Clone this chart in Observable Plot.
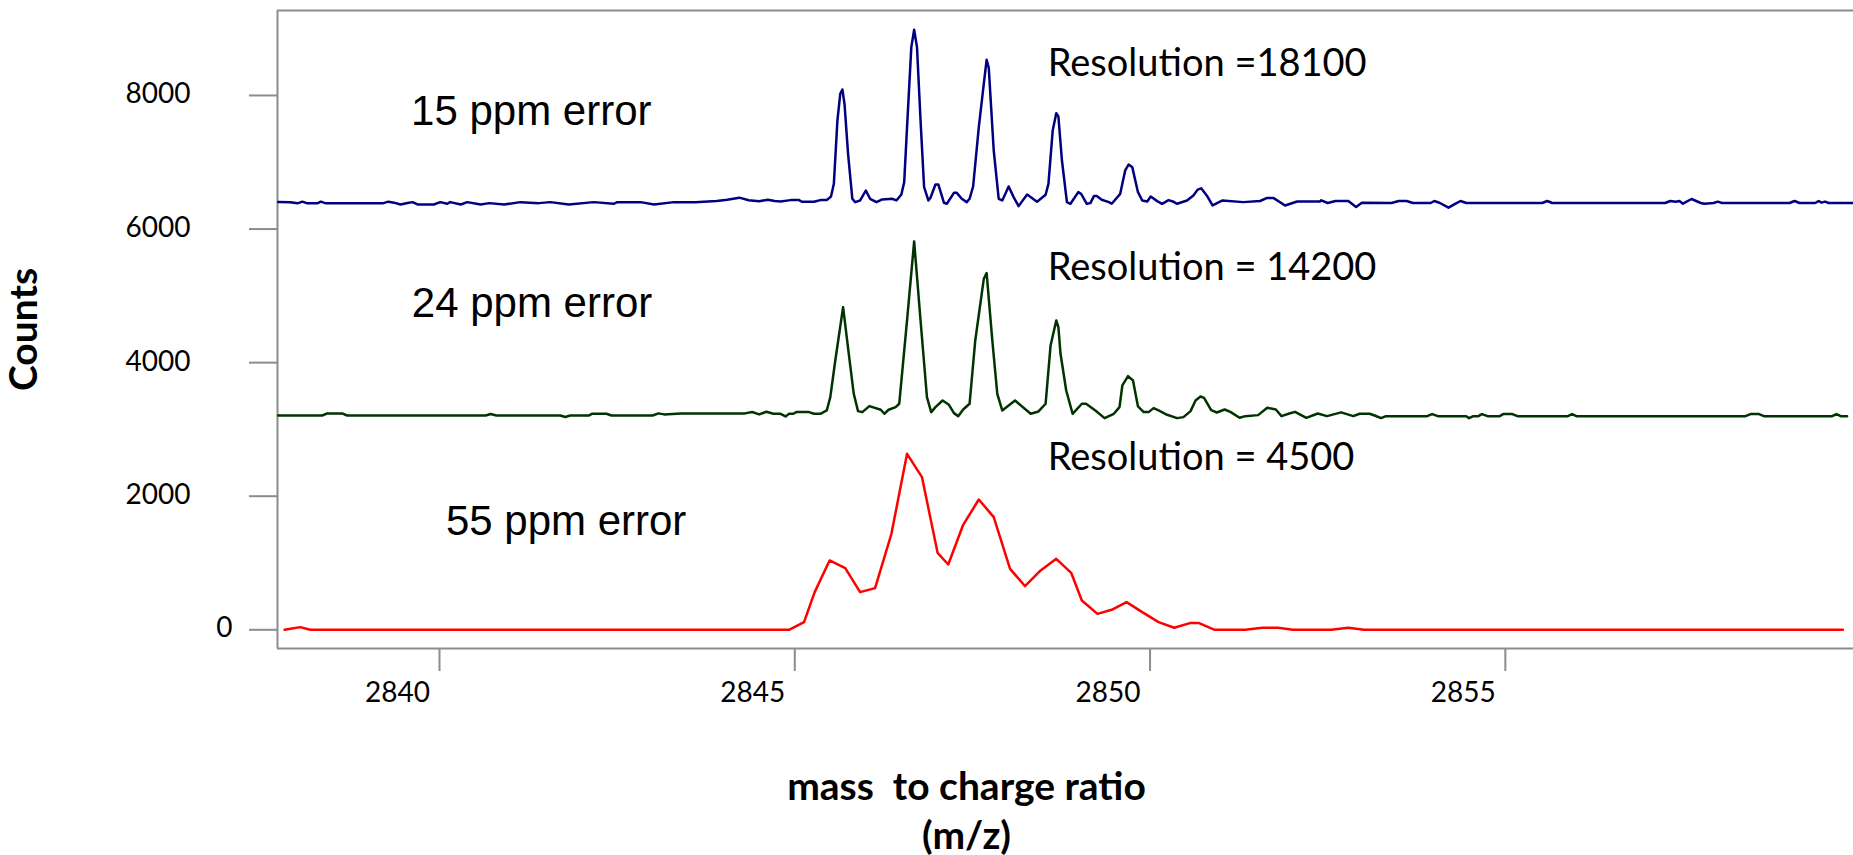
<!DOCTYPE html>
<html>
<head>
<meta charset="utf-8">
<script src="https://cdn.jsdelivr.net/npm/d3@7"></script>
<script src="https://cdn.jsdelivr.net/npm/@observablehq/plot@0.6"></script>
<style>
  html, body { margin: 0; padding: 0; background: #fff; }
  #chart svg { display: block; }
</style>
</head>
<body>
<div id="chart"></div>
<script>
// ---- Data (m/z, counts as plotted) ----
const spectrum15ppm = [
[2837.73,6405],[2837.90,6400],[2838.00,6385],[2838.07,6410],[2838.14,6385],[2838.28,6385],[2838.33,6410],[2838.40,6385],[2839.20,6385],[2839.28,6410],[2839.36,6395],[2839.45,6368],[2839.55,6390],[2839.62,6403],[2839.69,6368],[2839.92,6368],[2840.01,6403],[2840.11,6378],[2840.15,6403],[2840.30,6368],[2840.39,6403],[2840.58,6368],[2840.70,6388],[2840.91,6368],[2841.14,6403],[2841.40,6388],[2841.56,6403],[2841.82,6368],[2842.17,6403],[2842.45,6378],[2842.50,6403],[2842.83,6403],[2843.02,6368],[2843.30,6403],[2843.60,6403],[2843.90,6420],[2844.05,6440],[2844.22,6470],[2844.35,6430],[2844.50,6415],[2844.62,6440],[2844.72,6420],
[2844.80,6413],[2844.94,6433],[2845.06,6433],[2845.10,6408],[2845.27,6408],[2845.36,6433],[2845.45,6433],[2845.51,6488],[2845.55,6677],[2845.60,7625],[2845.64,8025],[2845.67,8090],[2845.70,7875],[2845.75,7126],[2845.81,6453],[2845.85,6403],[2845.92,6428],[2846.00,6577],[2846.06,6453],[2846.15,6403],[2846.23,6443],[2846.37,6453],[2846.43,6428],[2846.50,6518],[2846.54,6702],[2846.58,7525],[2846.64,8723],[2846.68,8983],[2846.72,8723],[2846.77,7625],[2846.82,6627],[2846.88,6428],[2846.91,6468],[2846.98,6667],[2847.02,6667],[2847.10,6393],[2847.14,6378],[2847.24,6542],[2847.28,6542],[2847.35,6453],[2847.42,6403],[2847.46,6453],[2847.51,6637],[2847.59,7525],[2847.66,8174],[2847.70,8533],[2847.73,8414],[2847.80,7176],[2847.87,6453],[2847.92,6428],[2848.01,6637],[2848.08,6478],[2848.15,6343],[2848.27,6518],[2848.41,6408],[2848.53,6513],[2848.57,6677],[2848.63,7476],[2848.68,7735],[2848.71,7685],[2848.76,7026],[2848.83,6403],[2848.88,6378],[2848.99,6552],[2849.03,6527],[2849.11,6378],[2849.16,6388],[2849.21,6493],[2849.25,6493],[2849.32,6438],[2849.42,6403],[2849.46,6378],[2849.58,6527],[2849.65,6877],[2849.70,6967],[2849.75,6927],[2849.83,6552],[2849.89,6428],[2849.96,6413],[2850.01,6488],[2850.10,6418],[2850.17,6378],[2850.26,6433],[2850.32,6413],[2850.38,6378],[2850.52,6428],[2850.61,6502],[2850.67,6590],[2850.72,6610],[2850.80,6500],[2850.88,6353],
[2851.02,6428],[2851.31,6403],[2851.55,6420],[2851.64,6463],[2851.74,6463],[2851.90,6353],[2852.07,6413],[2852.39,6413],[2852.41,6430],[2852.50,6390],[2852.61,6420],[2852.79,6420],[2852.90,6330],[2852.98,6393],[2853.40,6390],[2853.50,6420],[2853.61,6420],[2853.70,6390],[2853.95,6390],[2854.00,6420],[2854.08,6390],[2854.20,6320],[2854.30,6380],[2854.37,6420],[2854.45,6390],[2855.52,6390],[2855.59,6420],[2855.66,6390],[2857.25,6390],[2857.32,6420],[2857.40,6410],[2857.45,6420],[2857.50,6380],[2857.62,6450],[2857.75,6390],[2857.80,6380],[2857.93,6390],[2857.99,6410],[2858.05,6390],[2859.00,6390],[2859.07,6420],[2859.14,6390],[2859.36,6390],[2859.41,6420],[2859.45,6395],[2859.50,6410],[2859.55,6390],[2859.90,6390]
];

const spectrum24ppm = [
[2837.73,3208],[2838.35,3208],[2838.42,3239],[2838.63,3239],[2838.70,3208],[2840.65,3208],[2840.72,3230],[2840.80,3208],[2841.70,3208],[2841.77,3185],[2841.84,3208],[2842.10,3208],[2842.15,3235],[2842.35,3235],[2842.42,3208],[2843.00,3208],[2843.08,3240],[2843.16,3225],[2843.40,3240],[2844.30,3240],[2844.40,3260],[2844.50,3225],[2844.60,3265],[2844.70,3235],
[2844.80,3234],[2844.87,3194],[2844.92,3234],[2844.98,3234],[2845.02,3259],[2845.20,3259],[2845.27,3234],[2845.36,3234],[2845.45,3284],[2845.50,3483],[2845.57,4032],[2845.68,4831],[2845.76,4132],[2845.83,3533],[2845.89,3274],[2845.95,3259],[2846.05,3349],[2846.21,3294],[2846.26,3234],[2846.32,3294],[2846.42,3334],[2846.47,3384],[2846.58,4631],[2846.68,5814],[2846.77,4631],[2846.86,3483],[2846.92,3259],[2846.98,3334],[2847.08,3433],[2847.17,3369],[2847.24,3244],[2847.30,3199],[2847.37,3299],[2847.46,3384],[2847.54,4332],[2847.66,5255],[2847.70,5340],[2847.78,4332],[2847.85,3533],[2847.92,3284],[2848.10,3433],[2848.32,3234],[2848.43,3269],[2848.53,3384],[2848.60,4257],[2848.68,4631],[2848.71,4531],[2848.74,4132],[2848.82,3583],[2848.91,3234],[2849.04,3384],[2849.10,3384],[2849.23,3284],[2849.36,3169],[2849.49,3234],[2849.57,3334],[2849.61,3658],[2849.69,3798],[2849.76,3733],[2849.83,3344],[2849.91,3259],[2849.98,3259],[2850.05,3319],[2850.12,3284],[2850.24,3219],[2850.38,3169],[2850.47,3184],[2850.57,3274],[2850.64,3433],[2850.71,3493],[2850.76,3473],[2850.86,3288],
[2850.94,3253],[2851.05,3298],[2851.13,3263],[2851.26,3174],[2851.34,3199],[2851.52,3214],[2851.65,3324],[2851.77,3298],[2851.85,3199],[2851.96,3239],[2852.04,3263],[2852.20,3174],[2852.36,3239],[2852.49,3199],[2852.69,3255],[2852.86,3199],[2852.95,3235],[2853.09,3235],[2853.17,3205],[2853.25,3170],[2853.32,3198],[2853.90,3198],[2853.97,3230],[2854.05,3198],[2854.45,3198],[2854.49,3168],[2854.55,3198],[2854.62,3198],[2854.67,3230],[2854.75,3198],[2854.92,3198],[2854.97,3230],[2855.10,3230],[2855.17,3198],[2855.88,3198],[2855.94,3230],[2856.00,3198],[2858.38,3198],[2858.45,3230],[2858.57,3230],[2858.64,3198],[2859.60,3198],[2859.66,3230],[2859.72,3198],[2859.81,3198]
];

const spectrum55ppm = [
[2837.82,0],[2838.04,40],[2838.18,0],[2844.92,0],[2845.13,115],[2845.28,564],[2845.49,1038],[2845.71,923],[2845.92,564],[2846.13,624],[2846.36,1437],[2846.58,2635],[2846.79,2286],[2847.01,1153],[2847.16,978],[2847.37,1572],[2847.59,1951],[2847.80,1687],[2848.03,913],[2848.24,654],[2848.46,888],[2848.68,1063],[2848.89,853],[2849.04,439],[2849.26,239],[2849.46,299],[2849.67,414],[2849.89,264],[2850.12,115],[2850.34,30],[2850.56,100],[2850.69,100],[2850.91,0],[2851.34,0],[2851.58,30],[2851.80,30],[2852.01,0],[2852.55,0],[2852.79,30],[2853.01,0],[2859.75,0]
];

const xTicks = [2840, 2845, 2850, 2855];
const yTicks = [0, 2000, 4000, 6000, 8000];
const xDomain = [2837.72, 2859.90];
const yDomain = [-280, 9272];

const ppmLabels = ["15 ppm error", "24 ppm error", "55 ppm error"];
const ppmLabelMz = [2839.60, 2839.61, 2840.09];
const ppmLabelCounts = [7551, 4680, 1412];

const resLabels = ["Resolution =18100", "Resolution = 14200", "Resolution = 4500"];
const resLabelMz = [2848.56, 2848.56, 2848.56];
const resLabelCounts = [8284, 5230, 2385];

const xTitle = "mass\u00a0 to charge ratio\n(m/z)";
const yTitle = "Counts";

// ---- Styles ----
const axisGray = "#8c8c8c";
const FONT = "Lato, 'Open Sans', sans-serif";
const ARIAL = "'Liberation Sans', Arial, sans-serif";

const ppmTable = ppmLabels.map((t, i) => ({t, x: ppmLabelMz[i], y: ppmLabelCounts[i]}));
const resTable = resLabels.map((t, i) => ({t, x: resLabelMz[i], y: resLabelCounts[i]}));

const chart = Plot.plot({
  width: 1853,
  height: 855,
  marginLeft: 277,
  marginRight: 0,
  marginTop: 10,
  marginBottom: 207,
  style: {background: "#fff", color: "#000", overflow: "visible"},
  x: {domain: xDomain},
  y: {domain: yDomain},
  marks: [
    // frame lines
    Plot.ruleX([xDomain[0]], {stroke: axisGray, strokeWidth: 2}),
    Plot.ruleY([yDomain[1]], {stroke: axisGray, strokeWidth: 2}),
    Plot.ruleY([yDomain[0]], {stroke: axisGray, strokeWidth: 2}),
    // x axis ticks and labels
    Plot.axisX(xTicks, {tickSize: 23, tickFormat: () => "", stroke: axisGray, strokeWidth: 2, label: null}),
    Plot.axisX(xTicks, {tickSize: 0, tickPadding: 34, dx: -42, tickFormat: d => String(d), fontSize: 28, fontFamily: FONT, fill: "#000", label: null}),
    // y axis ticks and labels
    Plot.axisY(yTicks, {tickSize: 28, tickFormat: () => "", stroke: axisGray, strokeWidth: 2, label: null}),
    Plot.axisY(yTicks.filter(d => d !== 0), {tickSize: 0, tickPadding: 87, dy: -1, tickFormat: d => String(d), fontSize: 28, fontFamily: FONT, fill: "#000", label: null}),
    Plot.axisY(yTicks.filter(d => d === 0), {tickSize: 0, tickPadding: 45, dy: -2, tickFormat: d => String(d), fontSize: 28, fontFamily: FONT, fill: "#000", label: null}),
    // spectra
    Plot.line(spectrum15ppm, {x: d => d[0], y: d => d[1], stroke: "#000080", strokeWidth: 2.5}),
    Plot.line(spectrum24ppm, {x: d => d[0], y: d => d[1], stroke: "#003300", strokeWidth: 2.5}),
    Plot.line(spectrum55ppm, {x: d => d[0], y: d => d[1], stroke: "#ff0000", strokeWidth: 2.5}),
    // annotations
    Plot.text(ppmTable, {x: "x", y: "y", text: "t", textAnchor: "start", lineAnchor: "bottom", fontSize: 42, fontFamily: ARIAL, fill: "#000"}),
    Plot.text(resTable, {x: "x", y: "y", text: "t", textAnchor: "start", lineAnchor: "bottom", fontSize: 38, fontFamily: FONT, fill: "#000"}),
    // axis titles
    Plot.text([yTitle], {frameAnchor: "left", textAnchor: "middle", lineAnchor: "middle", dx: -253, rotate: -90, fontSize: 39, fontWeight: "bold", fontFamily: FONT, fill: "#000"}),
    Plot.text([xTitle], {frameAnchor: "bottom", textAnchor: "middle", lineAnchor: "top", dx: -99, dy: 117, lineHeight: 1.25, fontSize: 39, fontWeight: "bold", fontFamily: FONT, fill: "#000"})
  ]
});

document.getElementById("chart").appendChild(chart);
</script>
</body>
</html>
